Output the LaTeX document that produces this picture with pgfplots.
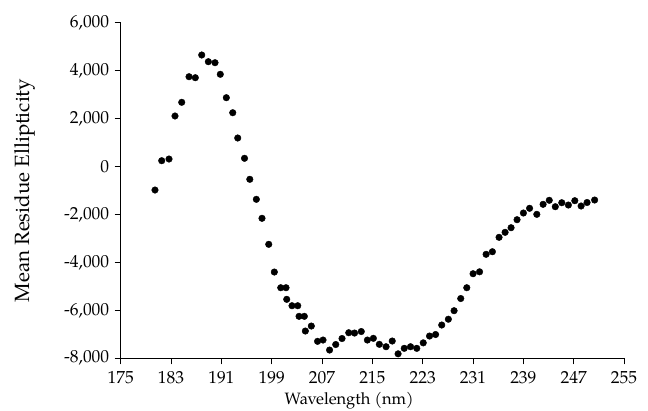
\documentclass[border=0pt]{standalone}
\usepackage{pgfplots}
\pgfplotsset{compat=1.18}
\usepackage{fontspec}
\setmainfont{TeX Gyre Pagella}

\begin{document}
\begin{tikzpicture}
\begin{axis}[
    scale only axis,
    width=503.3bp, height=335.6bp,
    xmin=175, xmax=255, ymin=-8000, ymax=6000,
    xtick={175,183,...,255},
    ytick={-8000,-6000,...,6000},
    scaled ticks=false,
    axis x line*=bottom, axis y line*=left,
    axis line style={-, line width=1.1bp},
    tick style={line width=1bp, black},
    tick align=outside,
    major tick length=6bp,
    clip=false,
    /pgf/number format/assume math mode=true,
    /pgf/number format/1000 sep={,},
    tick label style={font=\fontsize{17.5}{18}\selectfont},
    xticklabel style={yshift=-4bp},
    yticklabel style={xshift=-2bp},
    xlabel={Wavelength (nm)},
    ylabel={Mean Residue Ellipticity},
    xlabel style={font=\fontsize{16.5}{17}\selectfont, at={(axis description cs:0.454,-0.1)}, anchor=north, inner sep=0pt},
    ylabel style={font=\fontsize{20.7}{21}\selectfont, at={(axis description cs:-0.19,0.5)}, anchor=center},
]
% CD spectrum, values
\addplot[only marks, mark=*, mark size=3.3bp, black, mark options={fill=black}] coordinates {
(180.45,-980) (181.52,243) (182.68,313) (183.63,2108) (184.70,2679)
(185.86,3747) (186.86,3705) (187.88,4652) (188.93,4373) (189.99,4331)
(190.83,3847) (191.79,2871) (192.81,2245) (193.60,1190) (194.68,343)
(195.52,-533) (196.56,-1368) (197.46,-2160) (198.53,-3245) (199.42,-4401)
(200.44,-5056) (201.28,-5056) (201.39,-5540) (202.23,-5807) (203.14,-5807)
(203.35,-6249) (204.19,-6249) (204.35,-6862) (205.30,-6654) (206.29,-7292)
(207.16,-7238) (208.20,-7655) (209.18,-7425) (210.18,-7175) (211.25,-6933)
(212.17,-6946) (213.24,-6883) (214.21,-7238) (215.16,-7167) (216.11,-7417)
(217.18,-7517) (218.16,-7279) (219.09,-7813) (220.07,-7584) (221.07,-7517)
(222.06,-7584) (223.09,-7355) (224.09,-7071) (225.05,-7008) (226.03,-6612)
(227.08,-6370) (227.99,-6015) (229.05,-5506) (230.01,-5056) (231.01,-4472)
(232.04,-4392) (233.08,-3662) (234.08,-3554) (235.14,-2953) (236.10,-2745)
(237.05,-2553) (238.00,-2219) (239.01,-1939) (239.99,-1743) (241.14,-1994)
(242.14,-1576) (243.12,-1409) (244.08,-1676) (245.11,-1510) (246.16,-1606)
(247.18,-1426) (248.18,-1647) (249.13,-1501) (250.33,-1397)
};
\end{axis}
\pgfresetboundingbox
\path[use as bounding box] ([shift={(-120.7bp,-51.7bp)}]current axis.south west) rectangle ([shift={(24bp,22.7bp)}]current axis.north east);
\end{tikzpicture}
\end{document}
